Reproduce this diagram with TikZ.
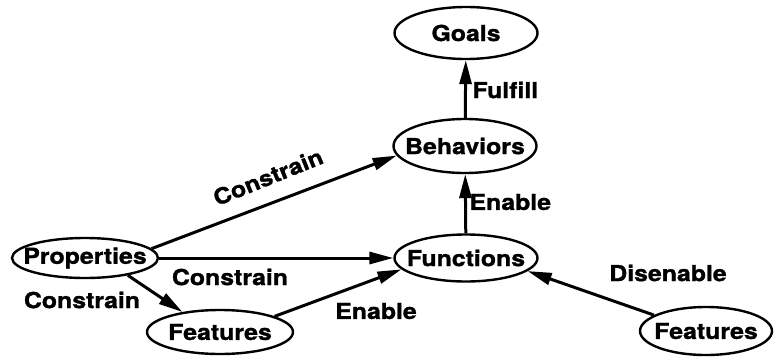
\documentclass[tikz,border=0pt]{standalone}
\usepackage{fontspec}
\setmainfont{TeX Gyre Heros}[FakeStretch=1.13, BoldFeatures={FakeBold=1.2}]
\usetikzlibrary{shapes.geometric,arrows.meta}
\begin{document}
\begin{tikzpicture}[x=1pt,y=-1pt,
    oval/.style={ellipse, draw, line width=2.4pt, inner sep=-30pt,
        minimum width=143pt, minimum height=52pt, font=\bfseries\fontsize{22}{26}\selectfont},
    arr/.style={line width=3pt, -{Triangle[length=24pt,width=12pt]}},
    lbl/.style={font=\bfseries\fontsize{22}{26}\selectfont}]
    \useasboundingbox (0,0) rectangle (775,356);
    % Nodes
    \node[oval] (goals) at (466,33) {Goals};
    \node[oval, minimum height=54pt] (behav) at (465,146) {Behaviors};
    \node[oval, minimum height=47pt] (func) at (466,258) {Functions};
    \node[oval, minimum width=146pt, minimum height=40pt] (props) at (85,258) {Properties};
    \node[oval, minimum width=146pt, minimum height=44pt] (featl) at (220,332) {Features};
    \node[oval, minimum width=132pt, minimum height=48pt] (featr) at (706,331) {Features};
    % Upward arrows
    \draw[arr] (behav) -- (goals);
    \node[lbl, anchor=west] (fulfill) at (469,90) {Fulfill};
    \draw[arr] (func) -- (behav);
    \node[lbl, anchor=west] (enable1) at (466,202) {Enable};
    % Arrows from Properties
    \draw[arr] (props.8) -- (behav.188);
    \node[lbl, rotate=22] (con1) at (268,177) {Constrain};
    \draw[arr] (props.east) -- (func.west);
    \node[lbl] (con2) at (230,277) {Constrain};
    \draw[arr] (props.-22) -- (featl.152);
    \node[lbl] (con3) at (82,300) {Constrain};
    % Arrows from Features
    \draw[arr] (featl.16) -- (func.190);
    \node[lbl] (enable2) at (376,311) {Enable};
    \draw[arr] (featr.163) -- (func.-12);
    \node[lbl] (disen) at (668,273) {Disenable};
\end{tikzpicture}
\end{document}
